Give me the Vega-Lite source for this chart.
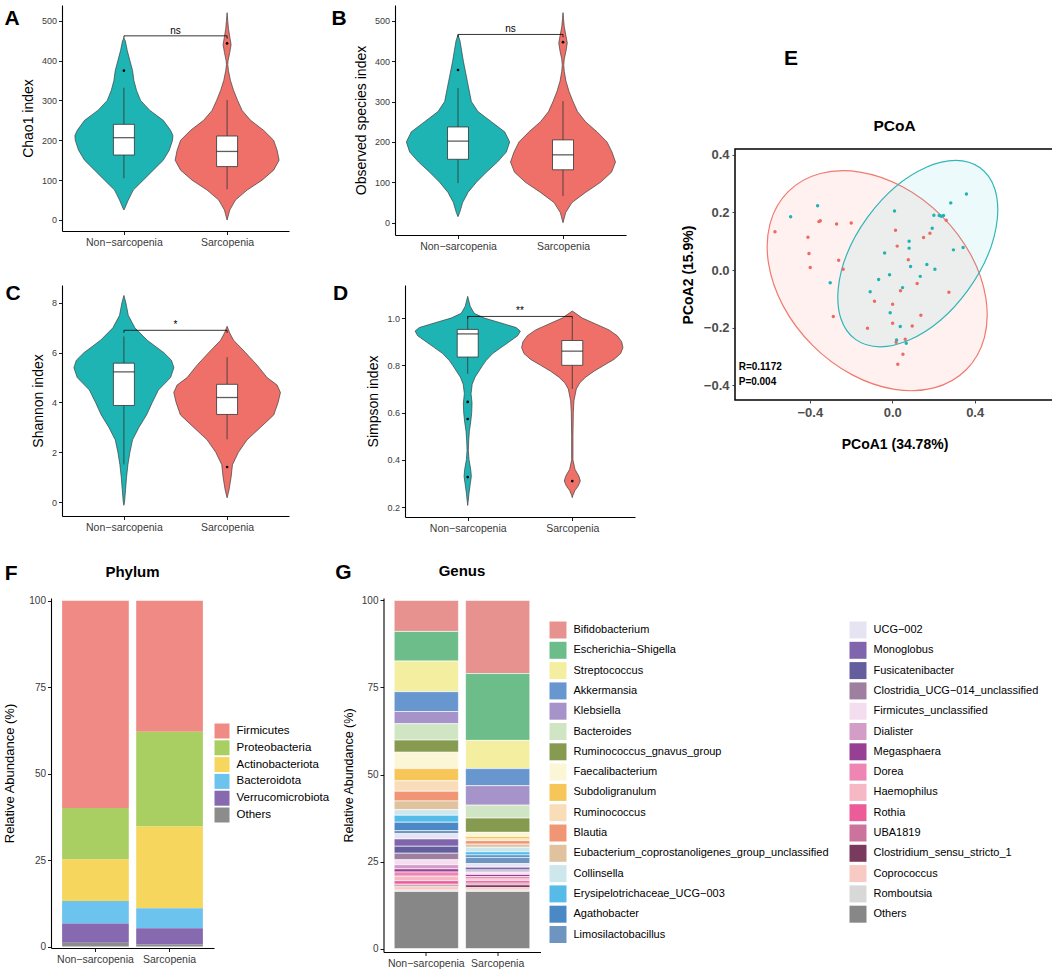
{
"$schema": "https://vega.github.io/schema/vega-lite/v6.json",
"padding": {"left": 3, "top": 5, "right": 0, "bottom": 0},
"datasets": {
"violin": [
{"p":"A","g":"N","y":25,"d":0},{"p":"A","g":"N","y":30,"d":0.02},{"p":"A","g":"N","y":50,"d":0.087},{"p":"A","g":"N","y":75,"d":0.187},{"p":"A","g":"N","y":100,"d":0.387},{"p":"A","g":"N","y":125,"d":0.587},{"p":"A","g":"N","y":150,"d":0.787},{"p":"A","g":"N","y":175,"d":0.907},{"p":"A","g":"N","y":200,"d":0.973},{"p":"A","g":"N","y":212,"d":0.98},{"p":"A","g":"N","y":225,"d":0.933},{"p":"A","g":"N","y":250,"d":0.787},{"p":"A","g":"N","y":275,"d":0.52},{"p":"A","g":"N","y":300,"d":0.333},{"p":"A","g":"N","y":325,"d":0.253},{"p":"A","g":"N","y":350,"d":0.2},{"p":"A","g":"N","y":375,"d":0.173},{"p":"A","g":"N","y":400,"d":0.12},{"p":"A","g":"N","y":425,"d":0.067},{"p":"A","g":"N","y":450,"d":0.027},{"p":"A","g":"N","y":456,"d":0},
{"p":"A","g":"S","y":0,"d":0},{"p":"A","g":"S","y":25,"d":0.053},{"p":"A","g":"S","y":50,"d":0.167},{"p":"A","g":"S","y":75,"d":0.4},{"p":"A","g":"S","y":100,"d":0.7},{"p":"A","g":"S","y":125,"d":0.93},{"p":"A","g":"S","y":150,"d":1.04},{"p":"A","g":"S","y":175,"d":1.0},{"p":"A","g":"S","y":200,"d":0.93},{"p":"A","g":"S","y":225,"d":0.73},{"p":"A","g":"S","y":250,"d":0.47},{"p":"A","g":"S","y":275,"d":0.3},{"p":"A","g":"S","y":300,"d":0.21},{"p":"A","g":"S","y":325,"d":0.13},{"p":"A","g":"S","y":350,"d":0.067},{"p":"A","g":"S","y":375,"d":0.027},{"p":"A","g":"S","y":390,"d":0.013},{"p":"A","g":"S","y":400,"d":0.02},{"p":"A","g":"S","y":420,"d":0.053},{"p":"A","g":"S","y":440,"d":0.08},{"p":"A","g":"S","y":460,"d":0.053},{"p":"A","g":"S","y":480,"d":0.027},{"p":"A","g":"S","y":500,"d":0.013},{"p":"A","g":"S","y":520,"d":0},
{"p":"B","g":"N","y":15,"d":0},{"p":"B","g":"N","y":25,"d":0.033},{"p":"B","g":"N","y":50,"d":0.093},{"p":"B","g":"N","y":75,"d":0.2},{"p":"B","g":"N","y":100,"d":0.367},{"p":"B","g":"N","y":125,"d":0.567},{"p":"B","g":"N","y":150,"d":0.787},{"p":"B","g":"N","y":175,"d":0.967},{"p":"B","g":"N","y":200,"d":1.033},{"p":"B","g":"N","y":225,"d":0.933},{"p":"B","g":"N","y":250,"d":0.667},{"p":"B","g":"N","y":275,"d":0.4},{"p":"B","g":"N","y":300,"d":0.267},{"p":"B","g":"N","y":350,"d":0.187},{"p":"B","g":"N","y":400,"d":0.107},{"p":"B","g":"N","y":450,"d":0.04},{"p":"B","g":"N","y":465,"d":0},
{"p":"B","g":"S","y":0,"d":0},{"p":"B","g":"S","y":25,"d":0.053},{"p":"B","g":"S","y":50,"d":0.18},{"p":"B","g":"S","y":75,"d":0.45},{"p":"B","g":"S","y":100,"d":0.75},{"p":"B","g":"S","y":125,"d":0.97},{"p":"B","g":"S","y":150,"d":1.05},{"p":"B","g":"S","y":175,"d":0.98},{"p":"B","g":"S","y":200,"d":0.88},{"p":"B","g":"S","y":225,"d":0.68},{"p":"B","g":"S","y":250,"d":0.45},{"p":"B","g":"S","y":275,"d":0.29},{"p":"B","g":"S","y":300,"d":0.2},{"p":"B","g":"S","y":325,"d":0.12},{"p":"B","g":"S","y":350,"d":0.06},{"p":"B","g":"S","y":375,"d":0.025},{"p":"B","g":"S","y":390,"d":0.015},{"p":"B","g":"S","y":405,"d":0.025},{"p":"B","g":"S","y":425,"d":0.06},{"p":"B","g":"S","y":445,"d":0.085},{"p":"B","g":"S","y":465,"d":0.055},{"p":"B","g":"S","y":485,"d":0.025},{"p":"B","g":"S","y":505,"d":0.01},{"p":"B","g":"S","y":520,"d":0},
{"p":"C","g":"N","y":-0.13,"d":0},{"p":"C","g":"N","y":0,"d":0.013},{"p":"C","g":"N","y":0.5,"d":0.033},{"p":"C","g":"N","y":1,"d":0.053},{"p":"C","g":"N","y":1.5,"d":0.08},{"p":"C","g":"N","y":2,"d":0.12},{"p":"C","g":"N","y":2.5,"d":0.173},{"p":"C","g":"N","y":3,"d":0.3},{"p":"C","g":"N","y":3.5,"d":0.453},{"p":"C","g":"N","y":4,"d":0.567},{"p":"C","g":"N","y":4.5,"d":0.69},{"p":"C","g":"N","y":5,"d":0.933},{"p":"C","g":"N","y":5.4,"d":1.0},{"p":"C","g":"N","y":5.7,"d":0.95},{"p":"C","g":"N","y":6,"d":0.8},{"p":"C","g":"N","y":6.5,"d":0.467},{"p":"C","g":"N","y":7,"d":0.22},{"p":"C","g":"N","y":7.5,"d":0.087},{"p":"C","g":"N","y":8,"d":0.04},{"p":"C","g":"N","y":8.3,"d":0},
{"p":"C","g":"S","y":0.17,"d":0},{"p":"C","g":"S","y":0.5,"d":0.04},{"p":"C","g":"S","y":1,"d":0.08},{"p":"C","g":"S","y":1.5,"d":0.107},{"p":"C","g":"S","y":2,"d":0.227},{"p":"C","g":"S","y":2.5,"d":0.4},{"p":"C","g":"S","y":3,"d":0.667},{"p":"C","g":"S","y":3.5,"d":0.933},{"p":"C","g":"S","y":4,"d":1.02},{"p":"C","g":"S","y":4.4,"d":1.067},{"p":"C","g":"S","y":4.7,"d":1.0},{"p":"C","g":"S","y":5,"d":0.8},{"p":"C","g":"S","y":5.5,"d":0.6},{"p":"C","g":"S","y":6,"d":0.37},{"p":"C","g":"S","y":6.5,"d":0.13},{"p":"C","g":"S","y":6.8,"d":0.05},{"p":"C","g":"S","y":7.06,"d":0},
{"p":"D","g":"N","y":0.207,"d":0},{"p":"D","g":"N","y":0.22,"d":0.007},{"p":"D","g":"N","y":0.26,"d":0.027},{"p":"D","g":"N","y":0.3,"d":0.053},{"p":"D","g":"N","y":0.33,"d":0.073},{"p":"D","g":"N","y":0.36,"d":0.06},{"p":"D","g":"N","y":0.4,"d":0.027},{"p":"D","g":"N","y":0.44,"d":0.013},{"p":"D","g":"N","y":0.48,"d":0.02},{"p":"D","g":"N","y":0.52,"d":0.033},{"p":"D","g":"N","y":0.56,"d":0.06},{"p":"D","g":"N","y":0.6,"d":0.08},{"p":"D","g":"N","y":0.64,"d":0.087},{"p":"D","g":"N","y":0.68,"d":0.067},{"p":"D","g":"N","y":0.72,"d":0.09},{"p":"D","g":"N","y":0.75,"d":0.147},{"p":"D","g":"N","y":0.8,"d":0.3},{"p":"D","g":"N","y":0.82,"d":0.367},{"p":"D","g":"N","y":0.85,"d":0.5},{"p":"D","g":"N","y":0.875,"d":0.667},{"p":"D","g":"N","y":0.9,"d":0.833},{"p":"D","g":"N","y":0.925,"d":1.0},{"p":"D","g":"N","y":0.945,"d":1.053},{"p":"D","g":"N","y":0.96,"d":0.967},{"p":"D","g":"N","y":0.975,"d":0.733},{"p":"D","g":"N","y":1.0,"d":0.333},{"p":"D","g":"N","y":1.02,"d":0.13},{"p":"D","g":"N","y":1.05,"d":0.05},{"p":"D","g":"N","y":1.092,"d":0},
{"p":"D","g":"S","y":0.24,"d":0},{"p":"D","g":"S","y":0.25,"d":0.013},{"p":"D","g":"S","y":0.27,"d":0.053},{"p":"D","g":"S","y":0.29,"d":0.12},{"p":"D","g":"S","y":0.31,"d":0.16},{"p":"D","g":"S","y":0.33,"d":0.133},{"p":"D","g":"S","y":0.36,"d":0.053},{"p":"D","g":"S","y":0.4,"d":0.013},{"p":"D","g":"S","y":0.5,"d":0.013},{"p":"D","g":"S","y":0.6,"d":0.02},{"p":"D","g":"S","y":0.65,"d":0.033},{"p":"D","g":"S","y":0.7,"d":0.08},{"p":"D","g":"S","y":0.725,"d":0.147},{"p":"D","g":"S","y":0.75,"d":0.267},{"p":"D","g":"S","y":0.775,"d":0.433},{"p":"D","g":"S","y":0.8,"d":0.633},{"p":"D","g":"S","y":0.825,"d":0.833},{"p":"D","g":"S","y":0.85,"d":0.967},{"p":"D","g":"S","y":0.875,"d":1.013},{"p":"D","g":"S","y":0.9,"d":0.987},{"p":"D","g":"S","y":0.925,"d":0.9},{"p":"D","g":"S","y":0.95,"d":0.733},{"p":"D","g":"S","y":0.975,"d":0.467},{"p":"D","g":"S","y":1.0,"d":0.2},{"p":"D","g":"S","y":1.03,"d":0}
],
"box": [
{"p":"A","g":"Non\u2212sarcopenia","lo":104.5,"q1":163,"med":206.5,"q3":240,"hi":332},
{"p":"A","g":"Sarcopenia","lo":77,"q1":134,"med":172,"q3":210.7,"hi":301},
{"p":"B","g":"Non\u2212sarcopenia","lo":98,"q1":157,"med":202,"q3":237,"hi":333},
{"p":"B","g":"Sarcopenia","lo":66,"q1":131,"med":168,"q3":205,"hi":301},
{"p":"C","g":"Non\u2212sarcopenia","lo":1.51,"q1":3.88,"med":5.23,"q3":5.58,"hi":6.65},
{"p":"C","g":"Sarcopenia","lo":2.52,"q1":3.52,"med":4.2,"q3":4.73,"hi":5.82},
{"p":"D","g":"Non\u2212sarcopenia","lo":0.764,"q1":0.835,"med":0.933,"q3":0.952,"hi":1.007},
{"p":"D","g":"Sarcopenia","lo":0.70,"q1":0.80,"med":0.86,"q3":0.905,"hi":0.995}
],
"out": [
{"p":"A","g":"Non\u2212sarcopenia","y":374.6},{"p":"A","g":"Sarcopenia","y":443},
{"p":"B","g":"Non\u2212sarcopenia","y":378},{"p":"B","g":"Sarcopenia","y":447},
{"p":"C","g":"Sarcopenia","y":1.41},
{"p":"D","g":"Non\u2212sarcopenia","y":0.645},{"p":"D","g":"Non\u2212sarcopenia","y":0.573},{"p":"D","g":"Non\u2212sarcopenia","y":0.327},{"p":"D","g":"Sarcopenia","y":0.31}
],
"brk": [
{"p":"A","g":"Non\u2212sarcopenia","y":455,"o":1},{"p":"A","g":"Non\u2212sarcopenia","y":462,"o":2},{"p":"A","g":"Sarcopenia","y":462,"o":3},{"p":"A","g":"Sarcopenia","y":455,"o":4},
{"p":"B","g":"Non\u2212sarcopenia","y":459,"o":1},{"p":"B","g":"Non\u2212sarcopenia","y":466,"o":2},{"p":"B","g":"Sarcopenia","y":466,"o":3},{"p":"B","g":"Sarcopenia","y":459,"o":4},
{"p":"C","g":"Non\u2212sarcopenia","y":6.8,"o":1},{"p":"C","g":"Non\u2212sarcopenia","y":6.9,"o":2},{"p":"C","g":"Sarcopenia","y":6.9,"o":3},{"p":"C","g":"Sarcopenia","y":6.8,"o":4},
{"p":"D","g":"Non\u2212sarcopenia","y":0.997,"o":1},{"p":"D","g":"Non\u2212sarcopenia","y":1.007,"o":2},{"p":"D","g":"Sarcopenia","y":1.007,"o":3},{"p":"D","g":"Sarcopenia","y":0.997,"o":4}
],
"sig": [
{"p":"A","label":"ns","y":462,"xm":1.5},{"p":"B","label":"ns","y":466,"xm":1.5},{"p":"C","label":"*","y":6.9,"xm":1.5},{"p":"D","label":"**","y":1.007,"xm":1.5}
],
"pcoa": [
{"g":"Non\u2212sarcopenia","x":-0.493,"y":0.185},{"g":"Non\u2212sarcopenia","x":-0.362,"y":0.223},{"g":"Non\u2212sarcopenia","x":-0.301,"y":-0.044},{"g":"Non\u2212sarcopenia","x":-0.107,"y":-0.075},{"g":"Non\u2212sarcopenia","x":-0.066,"y":-0.033},{"g":"Non\u2212sarcopenia","x":-0.037,"y":0.059},{"g":"Non\u2212sarcopenia","x":-0.013,"y":-0.016},{"g":"Non\u2212sarcopenia","x":-0.010,"y":-0.148},{"g":"Non\u2212sarcopenia","x":0.011,"y":0.205},{"g":"Non\u2212sarcopenia","x":0.039,"y":-0.196},{"g":"Non\u2212sarcopenia","x":0.050,"y":-0.061},{"g":"Non\u2212sarcopenia","x":0.021,"y":-0.243},{"g":"Non\u2212sarcopenia","x":0.068,"y":-0.254},{"g":"Non\u2212sarcopenia","x":0.082,"y":0.100},{"g":"Non\u2212sarcopenia","x":0.082,"y":0.076},{"g":"Non\u2212sarcopenia","x":0.089,"y":0.012},{"g":"Non\u2212sarcopenia","x":0.136,"y":-0.022},{"g":"Non\u2212sarcopenia","x":0.168,"y":0.019},{"g":"Non\u2212sarcopenia","x":0.194,"y":0.145},{"g":"Non\u2212sarcopenia","x":0.202,"y":0.190},{"g":"Non\u2212sarcopenia","x":0.228,"y":0.189},{"g":"Non\u2212sarcopenia","x":0.238,"y":0.187},{"g":"Non\u2212sarcopenia","x":0.249,"y":0.189},{"g":"Non\u2212sarcopenia","x":0.284,"y":0.233},{"g":"Non\u2212sarcopenia","x":0.297,"y":0.070},{"g":"Non\u2212sarcopenia","x":0.360,"y":0.264},{"g":"Non\u2212sarcopenia","x":0.207,"y":0.003},{"g":"Non\u2212sarcopenia","x":0.344,"y":0.078},
{"g":"Sarcopenia","x":-0.569,"y":0.133},{"g":"Sarcopenia","x":-0.409,"y":0.114},{"g":"Sarcopenia","x":-0.404,"y":0.057},{"g":"Sarcopenia","x":-0.398,"y":0.009},{"g":"Sarcopenia","x":-0.356,"y":0.168},{"g":"Sarcopenia","x":-0.349,"y":0.171},{"g":"Sarcopenia","x":-0.270,"y":0.160},{"g":"Sarcopenia","x":-0.260,"y":0.034},{"g":"Sarcopenia","x":-0.199,"y":0.163},{"g":"Sarcopenia","x":-0.286,"y":-0.161},{"g":"Sarcopenia","x":-0.120,"y":-0.202},{"g":"Sarcopenia","x":-0.086,"y":-0.108},{"g":"Sarcopenia","x":0.002,"y":-0.119},{"g":"Sarcopenia","x":0.002,"y":-0.185},{"g":"Sarcopenia","x":0.016,"y":0.138},{"g":"Sarcopenia","x":0.024,"y":0.083},{"g":"Sarcopenia","x":0.078,"y":0.036},{"g":"Sarcopenia","x":0.040,"y":-0.072},{"g":"Sarcopenia","x":0.063,"y":-0.240},{"g":"Sarcopenia","x":0.052,"y":-0.292},{"g":"Sarcopenia","x":0.027,"y":-0.327},{"g":"Sarcopenia","x":0.019,"y":-0.251},{"g":"Sarcopenia","x":0.097,"y":-0.194},{"g":"Sarcopenia","x":0.121,"y":-0.047},{"g":"Sarcopenia","x":0.139,"y":-0.157},{"g":"Sarcopenia","x":0.152,"y":0.113},{"g":"Sarcopenia","x":0.183,"y":0.128},{"g":"Sarcopenia","x":0.262,"y":0.173},{"g":"Sarcopenia","x":0.275,"y":-0.077},{"g":"Sarcopenia","x":-0.238,"y":0.003}
],
"ell": [
{"g":"Sarcopenia","cx":-0.073,"cy":-0.037},{"g":"Non\u2212sarcopenia","cx":0.124,"cy":0.057}
],
"ann": [
{"x":-0.745,"y":-0.338,"label":"R=0.1172"},{"x":-0.745,"y":-0.389,"label":"P=0.004"}
],
"phylum": [
{"g":"Non\u2212sarcopenia","taxon":"Firmicutes","v":59.9,"o":6},{"g":"Non\u2212sarcopenia","taxon":"Proteobacteria","v":14.9,"o":5},{"g":"Non\u2212sarcopenia","taxon":"Actinobacteriota","v":12.0,"o":4},{"g":"Non\u2212sarcopenia","taxon":"Bacteroidota","v":6.5,"o":3},{"g":"Non\u2212sarcopenia","taxon":"Verrucomicrobiota","v":5.6,"o":2},{"g":"Non\u2212sarcopenia","taxon":"Others","v":1.1,"o":1},
{"g":"Sarcopenia","taxon":"Firmicutes","v":37.9,"o":6},{"g":"Sarcopenia","taxon":"Proteobacteria","v":27.4,"o":5},{"g":"Sarcopenia","taxon":"Actinobacteriota","v":23.6,"o":4},{"g":"Sarcopenia","taxon":"Bacteroidota","v":5.8,"o":3},{"g":"Sarcopenia","taxon":"Verrucomicrobiota","v":4.7,"o":2},{"g":"Sarcopenia","taxon":"Others","v":0.6,"o":1}
],
"genus": [
{"g":"Non\u2212sarcopenia","taxon":"Bifidobacterium","v":8.9,"o":31},{"g":"Sarcopenia","taxon":"Bifidobacterium","v":21.0,"o":31},
{"g":"Non\u2212sarcopenia","taxon":"Escherichia\u2212Shigella","v":8.5,"o":30},{"g":"Sarcopenia","taxon":"Escherichia\u2212Shigella","v":19.2,"o":30},
{"g":"Non\u2212sarcopenia","taxon":"Streptococcus","v":8.8,"o":29},{"g":"Sarcopenia","taxon":"Streptococcus","v":8.1,"o":29},
{"g":"Non\u2212sarcopenia","taxon":"Akkermansia","v":5.7,"o":28},{"g":"Sarcopenia","taxon":"Akkermansia","v":4.9,"o":28},
{"g":"Non\u2212sarcopenia","taxon":"Klebsiella","v":3.5,"o":27},{"g":"Sarcopenia","taxon":"Klebsiella","v":5.6,"o":27},
{"g":"Non\u2212sarcopenia","taxon":"Bacteroides","v":4.7,"o":26},{"g":"Sarcopenia","taxon":"Bacteroides","v":3.7,"o":26},
{"g":"Non\u2212sarcopenia","taxon":"Ruminococcus_gnavus_group","v":3.5,"o":25},{"g":"Sarcopenia","taxon":"Ruminococcus_gnavus_group","v":4.1,"o":25},
{"g":"Non\u2212sarcopenia","taxon":"Faecalibacterium","v":4.7,"o":24},{"g":"Sarcopenia","taxon":"Faecalibacterium","v":1.2,"o":24},
{"g":"Non\u2212sarcopenia","taxon":"Subdoligranulum","v":3.5,"o":23},{"g":"Sarcopenia","taxon":"Subdoligranulum","v":0.7,"o":23},
{"g":"Non\u2212sarcopenia","taxon":"Ruminococcus","v":3.0,"o":22},{"g":"Sarcopenia","taxon":"Ruminococcus","v":0.5,"o":22},
{"g":"Non\u2212sarcopenia","taxon":"Blautia","v":2.8,"o":21},{"g":"Sarcopenia","taxon":"Blautia","v":1.0,"o":21},
{"g":"Non\u2212sarcopenia","taxon":"Eubacterium_coprostanoligenes_group_unclassified","v":2.5,"o":20},{"g":"Sarcopenia","taxon":"Eubacterium_coprostanoligenes_group_unclassified","v":0.9,"o":20},
{"g":"Non\u2212sarcopenia","taxon":"Collinsella","v":1.6,"o":19},{"g":"Sarcopenia","taxon":"Collinsella","v":1.3,"o":19},
{"g":"Non\u2212sarcopenia","taxon":"Erysipelotrichaceae_UCG\u2212003","v":2.0,"o":18},{"g":"Sarcopenia","taxon":"Erysipelotrichaceae_UCG\u2212003","v":0.9,"o":18},
{"g":"Non\u2212sarcopenia","taxon":"Agathobacter","v":2.4,"o":17},{"g":"Sarcopenia","taxon":"Agathobacter","v":0.7,"o":17},
{"g":"Non\u2212sarcopenia","taxon":"Limosilactobacillus","v":0.9,"o":16},{"g":"Sarcopenia","taxon":"Limosilactobacillus","v":1.8,"o":16},
{"g":"Non\u2212sarcopenia","taxon":"UCG\u2212002","v":1.5,"o":15},{"g":"Sarcopenia","taxon":"UCG\u2212002","v":1.0,"o":15},
{"g":"Non\u2212sarcopenia","taxon":"Monoglobus","v":2.1,"o":14},{"g":"Sarcopenia","taxon":"Monoglobus","v":0.8,"o":14},
{"g":"Non\u2212sarcopenia","taxon":"Fusicatenibacter","v":2.0,"o":13},{"g":"Sarcopenia","taxon":"Fusicatenibacter","v":0.3,"o":13},
{"g":"Non\u2212sarcopenia","taxon":"Clostridia_UCG\u2212014_unclassified","v":1.9,"o":12},{"g":"Sarcopenia","taxon":"Clostridia_UCG\u2212014_unclassified","v":0.3,"o":12},
{"g":"Non\u2212sarcopenia","taxon":"Firmicutes_unclassified","v":1.4,"o":11},{"g":"Sarcopenia","taxon":"Firmicutes_unclassified","v":0.4,"o":11},
{"g":"Non\u2212sarcopenia","taxon":"Dialister","v":1.2,"o":10},{"g":"Sarcopenia","taxon":"Dialister","v":0.3,"o":10},
{"g":"Non\u2212sarcopenia","taxon":"Megasphaera","v":0.9,"o":9},{"g":"Sarcopenia","taxon":"Megasphaera","v":0.6,"o":9},
{"g":"Non\u2212sarcopenia","taxon":"Dorea","v":1.2,"o":8},{"g":"Sarcopenia","taxon":"Dorea","v":0.7,"o":8},
{"g":"Non\u2212sarcopenia","taxon":"Haemophilus","v":1.3,"o":7},{"g":"Sarcopenia","taxon":"Haemophilus","v":0.5,"o":7},
{"g":"Non\u2212sarcopenia","taxon":"Rothia","v":1.0,"o":6},{"g":"Sarcopenia","taxon":"Rothia","v":0.7,"o":6},
{"g":"Non\u2212sarcopenia","taxon":"UBA1819","v":0.3,"o":5},{"g":"Sarcopenia","taxon":"UBA1819","v":0.5,"o":5},
{"g":"Non\u2212sarcopenia","taxon":"Clostridium_sensu_stricto_1","v":0.4,"o":4},{"g":"Sarcopenia","taxon":"Clostridium_sensu_stricto_1","v":0.8,"o":4},
{"g":"Non\u2212sarcopenia","taxon":"Coprococcus","v":1.0,"o":3},{"g":"Sarcopenia","taxon":"Coprococcus","v":0.7,"o":3},
{"g":"Non\u2212sarcopenia","taxon":"Romboutsia","v":0.4,"o":2},{"g":"Sarcopenia","taxon":"Romboutsia","v":0.4,"o":2},
{"g":"Non\u2212sarcopenia","taxon":"Others","v":16.4,"o":1},{"g":"Sarcopenia","taxon":"Others","v":16.4,"o":1}
]
},
"vconcat": [
{"hconcat": [
 {"vconcat": [
  {"hconcat": [
   {"width": 227, "height": 226,
    "title": {"text": "A", "anchor": "start", "frame": "bounds", "fontSize": 21, "offset": 0, "dx": -17, "dy": 24},
    "resolve": {"scale": {"x": "independent"}, "axis": {"x": "independent"}},
    "layer": [
     {"data": {"name": "violin"}, "transform": [{"filter": "datum.p=='A' && datum.g=='N'"}],
      "mark": {"type": "area", "orient": "horizontal", "fill": "#1FB4B4", "stroke": "#3d3d3d", "strokeWidth": 0.7},
      "encoding": {"y": {"field": "y", "type": "quantitative", "scale": {"domain": [-27.6, 539.4], "nice": false, "zero": false}, "axis": {"values": [0,100,200,300,400,500]}, "title": "Chao1 index"},
                   "x": {"field": "d", "type": "quantitative", "stack": "center", "impute": null, "scale": {"domain": [-0.129, 2.141], "nice": false, "zero": false}, "axis": null}}},
     {"data": {"name": "violin"}, "transform": [{"filter": "datum.p=='A' && datum.g=='S'"}],
      "mark": {"type": "area", "orient": "horizontal", "fill": "#EE7068", "stroke": "#3d3d3d", "strokeWidth": 0.7},
      "encoding": {"y": {"field": "y", "type": "quantitative", "scale": {"domain": [-27.6, 539.4], "nice": false, "zero": false}},
                   "x": {"field": "d", "type": "quantitative", "stack": "center", "impute": null, "scale": {"domain": [-1.131, 1.139], "nice": false, "zero": false}, "axis": null}}},
     {"data": {"name": "box"}, "transform": [{"filter": "datum.p=='A'"}],
      "mark": {"type": "rule", "color": "#333333", "strokeWidth": 0.8},
      "encoding": {"x": {"field": "g", "type": "nominal", "title": null, "scale": {"type": "point", "domain": ["Non\u2212sarcopenia", "Sarcopenia"], "padding": 0.6}, "axis": {"labelAngle": 0, "labelFontSize": 10.5, "labelPadding": 3}},
                   "y": {"field": "lo", "type": "quantitative", "scale": {"domain": [-27.6, 539.4], "nice": false, "zero": false}}, "y2": {"field": "hi"}}},
     {"data": {"name": "box"}, "transform": [{"filter": "datum.p=='A'"}],
      "mark": {"type": "bar", "width": 21, "fill": "white", "stroke": "#333333", "strokeWidth": 0.8},
      "encoding": {"x": {"field": "g", "type": "nominal", "scale": {"type": "point", "domain": ["Non\u2212sarcopenia", "Sarcopenia"], "padding": 0.6}, "axis": null},
                   "y": {"field": "q1", "type": "quantitative", "scale": {"domain": [-27.6, 539.4], "nice": false, "zero": false}}, "y2": {"field": "q3"}}},
     {"data": {"name": "box"}, "transform": [{"filter": "datum.p=='A'"}],
      "mark": {"type": "tick", "size": 21, "thickness": 1.3, "color": "#1a1a1a", "orient": "horizontal"},
      "encoding": {"x": {"field": "g", "type": "nominal", "scale": {"type": "point", "domain": ["Non\u2212sarcopenia", "Sarcopenia"], "padding": 0.6}, "axis": null},
                   "y": {"field": "med", "type": "quantitative", "scale": {"domain": [-27.6, 539.4], "nice": false, "zero": false}}}},
     {"data": {"name": "out"}, "transform": [{"filter": "datum.p=='A'"}],
      "mark": {"type": "point", "filled": true, "size": 7, "color": "black", "opacity": 1},
      "encoding": {"x": {"field": "g", "type": "nominal", "scale": {"type": "point", "domain": ["Non\u2212sarcopenia", "Sarcopenia"], "padding": 0.6}, "axis": null},
                   "y": {"field": "y", "type": "quantitative", "scale": {"domain": [-27.6, 539.4], "nice": false, "zero": false}}}},
     {"data": {"name": "brk"}, "transform": [{"filter": "datum.p=='A'"}],
      "mark": {"type": "line", "color": "black", "strokeWidth": 0.8},
      "encoding": {"x": {"field": "g", "type": "nominal", "scale": {"type": "point", "domain": ["Non\u2212sarcopenia", "Sarcopenia"], "padding": 0.6}, "axis": null},
                   "y": {"field": "y", "type": "quantitative", "scale": {"domain": [-27.6, 539.4], "nice": false, "zero": false}}, "order": {"field": "o", "type": "quantitative"}}},
     {"data": {"name": "sig"}, "transform": [{"filter": "datum.p=='A'"}],
      "mark": {"type": "text", "fontSize": 10, "baseline": "alphabetic", "dy": -2, "color": "black"},
      "encoding": {"x": {"field": "xm", "type": "quantitative", "scale": {"domain": [0.4, 2.6], "nice": false, "zero": false}, "axis": null},
                   "y": {"field": "y", "type": "quantitative", "scale": {"domain": [-27.6, 539.4], "nice": false, "zero": false}}, "text": {"field": "label"}}}
    ]},
   {"width": 231, "height": 230,
    "title": {"text": "B", "anchor": "start", "frame": "bounds", "fontSize": 21, "offset": 0, "dx": -23, "dy": 24},
    "resolve": {"scale": {"x": "independent"}, "axis": {"x": "independent"}},
    "layer": [
     {"data": {"name": "violin"}, "transform": [{"filter": "datum.p=='B' && datum.g=='N'"}],
      "mark": {"type": "area", "orient": "horizontal", "fill": "#1FB4B4", "stroke": "#3d3d3d", "strokeWidth": 0.7},
      "encoding": {"y": {"field": "y", "type": "quantitative", "scale": {"domain": [-30.4, 538.9], "nice": false, "zero": false}, "axis": {"values": [0,100,200,300,400,500]}, "title": "Observed species index"},
                   "x": {"field": "d", "type": "quantitative", "stack": "center", "impute": null, "scale": {"domain": [-0.1135, 2.1965], "nice": false, "zero": false}, "axis": null}}},
     {"data": {"name": "violin"}, "transform": [{"filter": "datum.p=='B' && datum.g=='S'"}],
      "mark": {"type": "area", "orient": "horizontal", "fill": "#EE7068", "stroke": "#3d3d3d", "strokeWidth": 0.7},
      "encoding": {"y": {"field": "y", "type": "quantitative", "scale": {"domain": [-30.4, 538.9], "nice": false, "zero": false}},
                   "x": {"field": "d", "type": "quantitative", "stack": "center", "impute": null, "scale": {"domain": [-1.155, 1.155], "nice": false, "zero": false}, "axis": null}}},
     {"data": {"name": "box"}, "transform": [{"filter": "datum.p=='B'"}],
      "mark": {"type": "rule", "color": "#333333", "strokeWidth": 0.8},
      "encoding": {"x": {"field": "g", "type": "nominal", "title": null, "scale": {"type": "point", "domain": ["Non\u2212sarcopenia", "Sarcopenia"], "padding": 0.6}, "axis": {"labelAngle": 0, "labelFontSize": 10.5, "labelPadding": 3}},
                   "y": {"field": "lo", "type": "quantitative", "scale": {"domain": [-30.4, 538.9], "nice": false, "zero": false}}, "y2": {"field": "hi"}}},
     {"data": {"name": "box"}, "transform": [{"filter": "datum.p=='B'"}],
      "mark": {"type": "bar", "width": 21, "fill": "white", "stroke": "#333333", "strokeWidth": 0.8},
      "encoding": {"x": {"field": "g", "type": "nominal", "scale": {"type": "point", "domain": ["Non\u2212sarcopenia", "Sarcopenia"], "padding": 0.6}, "axis": null},
                   "y": {"field": "q1", "type": "quantitative", "scale": {"domain": [-30.4, 538.9], "nice": false, "zero": false}}, "y2": {"field": "q3"}}},
     {"data": {"name": "box"}, "transform": [{"filter": "datum.p=='B'"}],
      "mark": {"type": "tick", "size": 21, "thickness": 1.3, "color": "#1a1a1a", "orient": "horizontal"},
      "encoding": {"x": {"field": "g", "type": "nominal", "scale": {"type": "point", "domain": ["Non\u2212sarcopenia", "Sarcopenia"], "padding": 0.6}, "axis": null},
                   "y": {"field": "med", "type": "quantitative", "scale": {"domain": [-30.4, 538.9], "nice": false, "zero": false}}}},
     {"data": {"name": "out"}, "transform": [{"filter": "datum.p=='B'"}],
      "mark": {"type": "point", "filled": true, "size": 7, "color": "black", "opacity": 1},
      "encoding": {"x": {"field": "g", "type": "nominal", "scale": {"type": "point", "domain": ["Non\u2212sarcopenia", "Sarcopenia"], "padding": 0.6}, "axis": null},
                   "y": {"field": "y", "type": "quantitative", "scale": {"domain": [-30.4, 538.9], "nice": false, "zero": false}}}},
     {"data": {"name": "brk"}, "transform": [{"filter": "datum.p=='B'"}],
      "mark": {"type": "line", "color": "black", "strokeWidth": 0.8},
      "encoding": {"x": {"field": "g", "type": "nominal", "scale": {"type": "point", "domain": ["Non\u2212sarcopenia", "Sarcopenia"], "padding": 0.6}, "axis": null},
                   "y": {"field": "y", "type": "quantitative", "scale": {"domain": [-30.4, 538.9], "nice": false, "zero": false}}, "order": {"field": "o", "type": "quantitative"}}},
     {"data": {"name": "sig"}, "transform": [{"filter": "datum.p=='B'"}],
      "mark": {"type": "text", "fontSize": 10, "baseline": "alphabetic", "dy": -2, "color": "black"},
      "encoding": {"x": {"field": "xm", "type": "quantitative", "scale": {"domain": [0.4, 2.6], "nice": false, "zero": false}, "axis": null},
                   "y": {"field": "y", "type": "quantitative", "scale": {"domain": [-30.4, 538.9], "nice": false, "zero": false}}, "text": {"field": "label"}}}
    ]}
  ], "spacing": 42, "align": "none"},
  {"hconcat": [
   {"width": 227, "height": 231,
    "title": {"text": "C", "anchor": "start", "frame": "bounds", "fontSize": 21, "offset": 0, "dx": -26, "dy": 19},
    "resolve": {"scale": {"x": "independent"}, "axis": {"x": "independent"}},
    "layer": [
     {"data": {"name": "violin"}, "transform": [{"filter": "datum.p=='C' && datum.g=='N'"}],
      "mark": {"type": "area", "orient": "horizontal", "fill": "#1FB4B4", "stroke": "#3d3d3d", "strokeWidth": 0.7},
      "encoding": {"y": {"field": "y", "type": "quantitative", "scale": {"domain": [-0.56, 8.72], "nice": false, "zero": false}, "axis": {"values": [0,2,4,6,8]}, "title": "Shannon index"},
                   "x": {"field": "d", "type": "quantitative", "stack": "center", "impute": null, "scale": {"domain": [-0.119, 2.151], "nice": false, "zero": false}, "axis": null}}},
     {"data": {"name": "violin"}, "transform": [{"filter": "datum.p=='C' && datum.g=='S'"}],
      "mark": {"type": "area", "orient": "horizontal", "fill": "#EE7068", "stroke": "#3d3d3d", "strokeWidth": 0.7},
      "encoding": {"y": {"field": "y", "type": "quantitative", "scale": {"domain": [-0.56, 8.72], "nice": false, "zero": false}},
                   "x": {"field": "d", "type": "quantitative", "stack": "center", "impute": null, "scale": {"domain": [-1.1175, 1.1525], "nice": false, "zero": false}, "axis": null}}},
     {"data": {"name": "box"}, "transform": [{"filter": "datum.p=='C'"}],
      "mark": {"type": "rule", "color": "#333333", "strokeWidth": 0.8},
      "encoding": {"x": {"field": "g", "type": "nominal", "title": null, "scale": {"type": "point", "domain": ["Non\u2212sarcopenia", "Sarcopenia"], "padding": 0.6}, "axis": {"labelAngle": 0, "labelFontSize": 10.5, "labelPadding": 3}},
                   "y": {"field": "lo", "type": "quantitative", "scale": {"domain": [-0.56, 8.72], "nice": false, "zero": false}}, "y2": {"field": "hi"}}},
     {"data": {"name": "box"}, "transform": [{"filter": "datum.p=='C'"}],
      "mark": {"type": "bar", "width": 21, "fill": "white", "stroke": "#333333", "strokeWidth": 0.8},
      "encoding": {"x": {"field": "g", "type": "nominal", "scale": {"type": "point", "domain": ["Non\u2212sarcopenia", "Sarcopenia"], "padding": 0.6}, "axis": null},
                   "y": {"field": "q1", "type": "quantitative", "scale": {"domain": [-0.56, 8.72], "nice": false, "zero": false}}, "y2": {"field": "q3"}}},
     {"data": {"name": "box"}, "transform": [{"filter": "datum.p=='C'"}],
      "mark": {"type": "tick", "size": 21, "thickness": 1.3, "color": "#1a1a1a", "orient": "horizontal"},
      "encoding": {"x": {"field": "g", "type": "nominal", "scale": {"type": "point", "domain": ["Non\u2212sarcopenia", "Sarcopenia"], "padding": 0.6}, "axis": null},
                   "y": {"field": "med", "type": "quantitative", "scale": {"domain": [-0.56, 8.72], "nice": false, "zero": false}}}},
     {"data": {"name": "out"}, "transform": [{"filter": "datum.p=='C'"}],
      "mark": {"type": "point", "filled": true, "size": 7, "color": "black", "opacity": 1},
      "encoding": {"x": {"field": "g", "type": "nominal", "scale": {"type": "point", "domain": ["Non\u2212sarcopenia", "Sarcopenia"], "padding": 0.6}, "axis": null},
                   "y": {"field": "y", "type": "quantitative", "scale": {"domain": [-0.56, 8.72], "nice": false, "zero": false}}}},
     {"data": {"name": "brk"}, "transform": [{"filter": "datum.p=='C'"}],
      "mark": {"type": "line", "color": "black", "strokeWidth": 0.8},
      "encoding": {"x": {"field": "g", "type": "nominal", "scale": {"type": "point", "domain": ["Non\u2212sarcopenia", "Sarcopenia"], "padding": 0.6}, "axis": null},
                   "y": {"field": "y", "type": "quantitative", "scale": {"domain": [-0.56, 8.72], "nice": false, "zero": false}}, "order": {"field": "o", "type": "quantitative"}}},
     {"data": {"name": "sig"}, "transform": [{"filter": "datum.p=='C'"}],
      "mark": {"type": "text", "fontSize": 10, "baseline": "alphabetic", "dy": -2, "color": "black"},
      "encoding": {"x": {"field": "xm", "type": "quantitative", "scale": {"domain": [0.4, 2.6], "nice": false, "zero": false}, "axis": null},
                   "y": {"field": "y", "type": "quantitative", "scale": {"domain": [-0.56, 8.72], "nice": false, "zero": false}}, "text": {"field": "label"}}}
    ]},
   {"width": 230, "height": 232,
    "title": {"text": "D", "anchor": "start", "frame": "bounds", "fontSize": 21, "offset": 0, "dx": -34, "dy": 19},
    "resolve": {"scale": {"x": "independent"}, "axis": {"x": "independent"}},
    "layer": [
     {"data": {"name": "violin"}, "transform": [{"filter": "datum.p=='D' && datum.g=='N'"}],
      "mark": {"type": "area", "orient": "horizontal", "fill": "#1FB4B4", "stroke": "#3d3d3d", "strokeWidth": 0.7},
      "encoding": {"y": {"field": "y", "type": "quantitative", "scale": {"domain": [0.158, 1.14], "nice": false, "zero": false}, "axis": {"values": [0.2,0.4,0.6,0.8,1.0], "format": ".1f"}, "title": "Simpson index"},
                   "x": {"field": "d", "type": "quantitative", "stack": "center", "impute": null, "scale": {"domain": [-0.1005, 2.1995], "nice": false, "zero": false}, "axis": null}}},
     {"data": {"name": "violin"}, "transform": [{"filter": "datum.p=='D' && datum.g=='S'"}],
      "mark": {"type": "area", "orient": "horizontal", "fill": "#EE7068", "stroke": "#3d3d3d", "strokeWidth": 0.7},
      "encoding": {"y": {"field": "y", "type": "quantitative", "scale": {"domain": [0.158, 1.14], "nice": false, "zero": false}},
                   "x": {"field": "d", "type": "quantitative", "stack": "center", "impute": null, "scale": {"domain": [-1.1665, 1.1335], "nice": false, "zero": false}, "axis": null}}},
     {"data": {"name": "box"}, "transform": [{"filter": "datum.p=='D'"}],
      "mark": {"type": "rule", "color": "#333333", "strokeWidth": 0.8},
      "encoding": {"x": {"field": "g", "type": "nominal", "title": null, "scale": {"type": "point", "domain": ["Non\u2212sarcopenia", "Sarcopenia"], "padding": 0.6}, "axis": {"labelAngle": 0, "labelFontSize": 10.5, "labelPadding": 3}},
                   "y": {"field": "lo", "type": "quantitative", "scale": {"domain": [0.158, 1.14], "nice": false, "zero": false}}, "y2": {"field": "hi"}}},
     {"data": {"name": "box"}, "transform": [{"filter": "datum.p=='D'"}],
      "mark": {"type": "bar", "width": 21, "fill": "white", "stroke": "#333333", "strokeWidth": 0.8},
      "encoding": {"x": {"field": "g", "type": "nominal", "scale": {"type": "point", "domain": ["Non\u2212sarcopenia", "Sarcopenia"], "padding": 0.6}, "axis": null},
                   "y": {"field": "q1", "type": "quantitative", "scale": {"domain": [0.158, 1.14], "nice": false, "zero": false}}, "y2": {"field": "q3"}}},
     {"data": {"name": "box"}, "transform": [{"filter": "datum.p=='D'"}],
      "mark": {"type": "tick", "size": 21, "thickness": 1.3, "color": "#1a1a1a", "orient": "horizontal"},
      "encoding": {"x": {"field": "g", "type": "nominal", "scale": {"type": "point", "domain": ["Non\u2212sarcopenia", "Sarcopenia"], "padding": 0.6}, "axis": null},
                   "y": {"field": "med", "type": "quantitative", "scale": {"domain": [0.158, 1.14], "nice": false, "zero": false}}}},
     {"data": {"name": "out"}, "transform": [{"filter": "datum.p=='D'"}],
      "mark": {"type": "point", "filled": true, "size": 7, "color": "black", "opacity": 1},
      "encoding": {"x": {"field": "g", "type": "nominal", "scale": {"type": "point", "domain": ["Non\u2212sarcopenia", "Sarcopenia"], "padding": 0.6}, "axis": null},
                   "y": {"field": "y", "type": "quantitative", "scale": {"domain": [0.158, 1.14], "nice": false, "zero": false}}}},
     {"data": {"name": "brk"}, "transform": [{"filter": "datum.p=='D'"}],
      "mark": {"type": "line", "color": "black", "strokeWidth": 0.8},
      "encoding": {"x": {"field": "g", "type": "nominal", "scale": {"type": "point", "domain": ["Non\u2212sarcopenia", "Sarcopenia"], "padding": 0.6}, "axis": null},
                   "y": {"field": "y", "type": "quantitative", "scale": {"domain": [0.158, 1.14], "nice": false, "zero": false}}, "order": {"field": "o", "type": "quantitative"}}},
     {"data": {"name": "sig"}, "transform": [{"filter": "datum.p=='D'"}],
      "mark": {"type": "text", "fontSize": 10, "baseline": "alphabetic", "dy": -2, "color": "black"},
      "encoding": {"x": {"field": "xm", "type": "quantitative", "scale": {"domain": [0.4, 2.6], "nice": false, "zero": false}, "axis": null},
                   "y": {"field": "y", "type": "quantitative", "scale": {"domain": [0.158, 1.14], "nice": false, "zero": false}}, "text": {"field": "label"}}}
    ]}
  ], "spacing": 43, "align": "none"}
 ], "spacing": 31, "align": "none"},
 {"vconcat": [
   {"width": 319, "height": 40, "data": {"values": []}, "mark": "point", "encoding": {},
    "title": {"text": "E", "orient": "bottom", "anchor": "start", "frame": "group", "fontSize": 21, "offset": 3, "dx": 49}},
   {"width": 319, "height": 251,
    "title": {"text": "PCoA", "fontSize": 15.5, "offset": 14},
    "view": {"stroke": "black", "strokeWidth": 1.5},
    "layer": [
     {"data": {"name": "ell"}, "transform": [{"filter": "datum.g=='Sarcopenia'"}],
      "mark": {"type": "point", "shape": "M1,0C1,0.401,0.5523,0.726,0,0.726C-0.5523,0.726,-1,0.401,-1,0C-1,-0.401,-0.5523,-0.726,0,-0.726C0.5523,-0.726,1,-0.401,1,0Z", "size": 63403, "angle": 45, "filled": true, "fill": "#F8766D", "fillOpacity": 0.1, "stroke": "#F07A70", "strokeWidth": 1.2, "strokeOpacity": 1, "opacity": 1},
      "encoding": {"x": {"field": "cx", "type": "quantitative", "title": "PCoA1 (34.78%)", "scale": {"domain": [-0.763, 0.785], "nice": false, "zero": false}, "axis": {"values": [-0.4, 0, 0.4], "format": ".1f", "domain": false, "labelFontSize": 13, "labelFontWeight": "bold", "labelColor": "#4D4D4D", "tickColor": "#333333", "tickSize": 3, "labelPadding": 3, "titleFontSize": 14, "titleFontWeight": "bold", "titlePadding": 18}},
                   "y": {"field": "cy", "type": "quantitative", "title": "PCoA2 (15.9%)", "scale": {"domain": [-0.451, 0.42], "nice": false, "zero": false}, "axis": {"values": [-0.4, -0.2, 0, 0.2, 0.4], "format": ".1f", "domain": false, "labelFontSize": 13, "labelFontWeight": "bold", "labelColor": "#4D4D4D", "tickColor": "#333333", "tickSize": 3, "labelPadding": 3, "titleFontSize": 14, "titleFontWeight": "bold", "titlePadding": 8}}}},
     {"data": {"name": "ell"}, "transform": [{"filter": "datum.g!='Sarcopenia'"}],
      "mark": {"type": "point", "shape": "M1,0C1,0.323,0.5523,0.585,0,0.585C-0.5523,0.585,-1,0.323,-1,0C-1,-0.323,-0.5523,-0.585,0,-0.585C0.5523,-0.585,1,-0.323,1,0Z", "size": 44944, "angle": 306, "filled": true, "fill": "#00BFC4", "fillOpacity": 0.07, "stroke": "#2FB7B7", "strokeWidth": 1.2, "strokeOpacity": 1, "opacity": 1},
      "encoding": {"x": {"field": "cx", "type": "quantitative", "scale": {"domain": [-0.763, 0.785], "nice": false, "zero": false}},
                   "y": {"field": "cy", "type": "quantitative", "scale": {"domain": [-0.451, 0.42], "nice": false, "zero": false}}}},
     {"data": {"name": "pcoa"},
      "mark": {"type": "point", "filled": true, "size": 12, "opacity": 1},
      "encoding": {"x": {"field": "x", "type": "quantitative", "scale": {"domain": [-0.763, 0.785], "nice": false, "zero": false}},
                   "y": {"field": "y", "type": "quantitative", "scale": {"domain": [-0.451, 0.42], "nice": false, "zero": false}},
                   "color": {"field": "g", "type": "nominal", "scale": {"domain": ["Non\u2212sarcopenia", "Sarcopenia"], "range": ["#1FB4B4", "#EE6A60"]}, "legend": null}}},
     {"data": {"name": "ann"},
      "mark": {"type": "text", "align": "left", "baseline": "middle", "fontWeight": "bold", "fontSize": 10, "color": "black"},
      "encoding": {"x": {"field": "x", "type": "quantitative", "scale": {"domain": [-0.763, 0.785], "nice": false, "zero": false}},
                   "y": {"field": "y", "type": "quantitative", "scale": {"domain": [-0.451, 0.42], "nice": false, "zero": false}},
                   "text": {"field": "label"}}}
    ]}
 ], "spacing": 49, "align": "none"}
], "spacing": 45, "align": "none", "resolve": {"scale": {"color": "independent"}, "legend": {"color": "independent"}}},
{"hconcat": [
 {"width": 1, "height": 1, "data": {"values": []}, "mark": "point", "encoding": {}},
 {"hconcat": [
 {"title": {"text": "F", "anchor": "start", "frame": "bounds", "fontSize": 21, "offset": 0, "dy": 19, "dx": 1},
  "vconcat": [
   {"width": 163, "height": 350,
    "title": {"text": "Phylum", "fontSize": 15, "offset": 16},
    "data": {"name": "phylum"},
    "mark": {"type": "bar"},
    "encoding": {
     "x": {"field": "g", "type": "nominal", "title": null, "scale": {"domain": ["Non\u2212sarcopenia", "Sarcopenia"], "paddingInner": 0.1, "paddingOuter": 0.15}, "axis": {"labelAngle": 0, "labelFontSize": 10.5, "labelPadding": 3}},
     "y": {"field": "v", "type": "quantitative", "stack": "zero", "title": "Relative Abundance (%)", "scale": {"domain": [-0.4, 100.8], "nice": false, "zero": false}, "axis": {"values": [0,25,50,75,100], "labelFontSize": 10, "titleFontSize": 13, "titlePadding": 12}},
     "color": {"field": "taxon", "type": "nominal",
       "scale": {"domain": ["Firmicutes","Proteobacteria","Actinobacteriota","Bacteroidota","Verrucomicrobiota","Others"], "range": ["#F08A84","#A9CF62","#F6D65C","#6CC3EE","#8669AE","#8C8C8C"]},
       "legend": {"title": null, "orient": "none", "legendX": 163.5, "legendY": 125.5, "symbolType": "square", "symbolSize": 225, "symbolStrokeWidth": 0, "labelFontSize": 11.5, "labelOffset": 7, "rowPadding": 1.8, "padding": 0}},
     "order": {"field": "o", "type": "quantitative"}
    }}
  ], "align": "none"},
 {"title": {"text": "G", "anchor": "start", "frame": "bounds", "fontSize": 21, "offset": 0, "dy": 19, "dx": -7},
  "vconcat": [
   {"width": 157, "height": 354,
    "title": {"text": "Genus", "fontSize": 15, "offset": 16},
    "data": {"name": "genus"},
    "mark": {"type": "bar", "stroke": "white", "strokeWidth": 0.6},
    "encoding": {
     "x": {"field": "g", "type": "nominal", "title": null, "scale": {"domain": ["Non\u2212sarcopenia", "Sarcopenia"], "paddingInner": 0.1, "paddingOuter": 0.15}, "axis": {"labelAngle": 0, "labelFontSize": 10.5, "labelPadding": 3}},
     "y": {"field": "v", "type": "quantitative", "stack": "zero", "title": "Relative Abundance (%)", "scale": {"domain": [-0.97, 100.7], "nice": false, "zero": false}, "axis": {"values": [0,25,50,75,100], "labelFontSize": 10, "titleFontSize": 12.5}},
     "color": {"field": "taxon", "type": "nominal",
       "scale": {"domain": ["Bifidobacterium","Escherichia\u2212Shigella","Streptococcus","Akkermansia","Klebsiella","Bacteroides","Ruminococcus_gnavus_group","Faecalibacterium","Subdoligranulum","Ruminococcus","Blautia","Eubacterium_coprostanoligenes_group_unclassified","Collinsella","Erysipelotrichaceae_UCG\u2212003","Agathobacter","Limosilactobacillus","UCG\u2212002","Monoglobus","Fusicatenibacter","Clostridia_UCG\u2212014_unclassified","Firmicutes_unclassified","Dialister","Megasphaera","Dorea","Haemophilus","Rothia","UBA1819","Clostridium_sensu_stricto_1","Coprococcus","Romboutsia","Others"],
                 "range": ["#E8928F","#6DBD8A","#F4EFA0","#6897CF","#A693C9","#CFE5C4","#869A50","#FBF6D6","#F6C659","#F9DDB8","#F09674","#E0C39E","#CDE7EC","#57BBEA","#4A88C6","#6E95C0","#E6E4F2","#8064AD","#655E9E","#9E7F9F","#F3DDEE","#D49DC8","#973F95","#EE85B3","#F5B8C4","#EB5C98","#CC739D","#7A3A5E","#F7CBC4","#D8D8D8","#878787"]},
       "legend": {"title": null, "orient": "none", "legendX": 166, "legendY": 23.5, "columns": 2, "symbolLimit": 40, "symbolType": "square", "symbolSize": 289, "symbolStrokeWidth": 0, "labelFontSize": 11, "labelOffset": 7, "rowPadding": 3.3, "columnPadding": 21, "labelLimit": 400, "padding": 0}},
     "order": {"field": "o", "type": "quantitative"}
    }}
  ], "align": "none"}
 ], "spacing": 4.5, "align": "none", "resolve": {"scale": {"color": "independent"}, "legend": {"color": "independent"}}}
], "spacing": -60, "align": "none", "resolve": {"scale": {"color": "independent"}, "legend": {"color": "independent"}}}
],
"spacing": 28,
"align": "none",
"resolve": {"scale": {"color": "independent"}, "legend": {"color": "independent"}},
"config": {
 "font": "Liberation Sans",
 "background": "white",
 "view": {"stroke": null},
 "axis": {"grid": false, "domainColor": "black", "domainWidth": 1.1, "tickColor": "black", "tickSize": 3.5, "tickWidth": 0.9, "labelColor": "#3a3a3a", "labelFontSize": 9, "labelPadding": 2, "titleFontSize": 14, "titleFontWeight": "normal", "titleColor": "black", "titlePadding": 6},
 "title": {"fontWeight": "bold", "color": "black", "fontSize": 15},
 "legend": {"labelColor": "black"}
}
}
